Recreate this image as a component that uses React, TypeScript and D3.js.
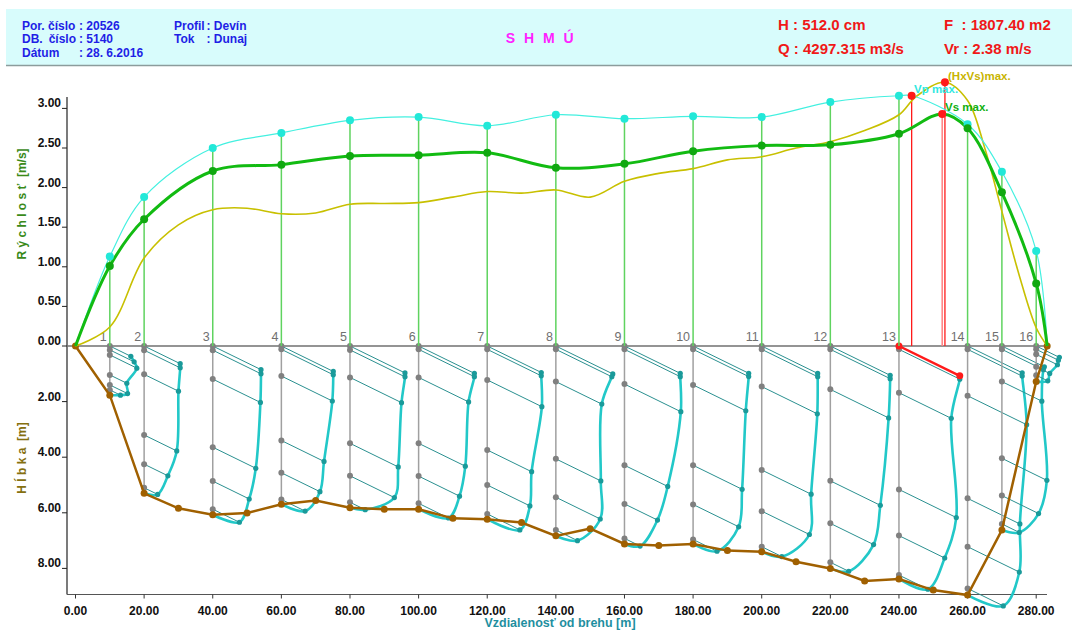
import React from "react";
import * as d3 from "d3";

// ---------- DATA ----------
const stations = [10, 20, 40, 60, 80, 100, 120, 140, 160, 180, 200, 220, 240, 260, 270, 280];
const stationLabels = ["1", "2", "3", "4", "5", "6", "7", "8", "9", "10", "11", "12", "13", "14", "15", "16"];
const vpValues = [1.13, 1.88, 2.5, 2.69, 2.85, 2.89, 2.78, 2.92, 2.87, 2.9, 2.89, 3.08, 3.16, 2.8, 2.2, 1.2];
const vsValues = [1.01, 1.6, 2.21, 2.29, 2.4, 2.41, 2.44, 2.25, 2.3, 2.46, 2.53, 2.54, 2.68, 2.75, 1.94, 0.79];
const bankLeft = 0;
const bankRight = 283.2;

const vpMaxPoint = [243.7, 3.16];
const vsMaxPoint = [252.6, 2.93];
const hxMaxPoint = [253.4, 3.33];

const hxX = [0, 10, 20, 30, 40, 50, 60, 70, 80, 90, 100, 110, 120, 130, 140, 150, 160, 170, 180, 190, 200, 210, 220, 230, 240, 245, 253.4, 260, 265, 270, 275, 280, 283.2];
const hxV = [0, 0.24, 1.11, 1.53, 1.72, 1.74, 1.67, 1.68, 1.79, 1.8, 1.81, 1.88, 1.95, 1.93, 1.97, 1.88, 2.08, 2.18, 2.24, 2.35, 2.39, 2.5, 2.58, 2.72, 2.92, 3.15, 3.33, 3.1, 2.5, 1.7, 0.9, 0.23, 0];

const bedX = [0, 10, 20, 30, 40, 50, 60, 70, 80, 90, 100, 110, 120, 130, 140, 150, 160, 170, 180, 190, 200, 210, 220, 230, 240, 250, 260, 270, 280, 283.2];
const bedDepth = [0, 1.77, 5.3, 5.84, 6.07, 6.01, 5.69, 5.56, 5.82, 5.87, 5.87, 6.2, 6.23, 6.35, 6.83, 6.57, 7.12, 7.18, 7.12, 7.36, 7.4, 7.76, 8.0, 8.45, 8.38, 8.78, 8.96, 6.62, 1.28, 0];

const profileDepths = [
  [0, 0.14, 0.32, 1.04, 1.4, 1.58],
  [0, 0.15, 1.02, 3.2, 4.25, 5.1],
  [0, 0.15, 1.19, 3.64, 4.86, 5.87],
  [0, 0.12, 1.08, 3.4, 4.56, 5.52],
  [0, 0.14, 1.13, 3.5, 4.67, 5.62],
  [0, 0.12, 1.13, 3.5, 4.68, 5.66],
  [0, 0.12, 1.22, 3.74, 5.0, 6.04],
  [0, 0.12, 1.28, 4.06, 5.44, 6.62],
  [0, 0.12, 1.37, 4.29, 5.68, 6.92],
  [0, 0.12, 1.4, 4.29, 5.7, 6.96],
  [0, 0.12, 1.46, 4.46, 5.94, 7.22],
  [0, 0.12, 1.56, 4.85, 6.38, 7.78],
  [0, 0.12, 1.68, 5.16, 6.82, 8.24],
  [0, 0.12, 1.79, 5.48, 7.22, 8.72],
  [0, 0.12, 1.28, 4.04, 5.38, 6.4],
  [0, 0.12, 0.3, 0.75, 1.05],
];
const profileVelocities = [
  [1.09, 1.26, 1.4, 0.88, 0.92, 0.55],
  [1.87, 1.87, 1.78, 1.69, 1.23, 0.7],
  [2.5, 2.5, 2.47, 2.23, 1.89, 1.38],
  [2.69, 2.69, 2.64, 2.21, 2.0, 1.23],
  [2.85, 2.85, 2.67, 2.5, 2.3, 0.79],
  [2.89, 2.89, 2.59, 2.42, 2.12, 1.55],
  [2.8, 2.8, 2.83, 2.3, 2.21, 1.69],
  [2.95, 2.9, 2.38, 2.33, 2.3, 1.12],
  [2.89, 2.89, 2.92, 2.24, 1.71, 0.81],
  [2.88, 2.88, 2.73, 2.54, 2.36, 1.24],
  [2.9, 2.9, 2.88, 2.56, 2.47, 1.04],
  [3.1, 3.1, 3.02, 2.59, 2.24, 0.95],
  [3.15, 3.15, 2.71, 2.97, 2.37, 1.5],
  [2.83, 2.83, 3.06, 2.71, 2.68, 1.85],
  [2.2, 2.15, 2.07, 2.33, 1.9, 0.9],
  [1.2, 1.15, 1.1, 0.7, 0.6],
];
const highlightStation = 12; // index of vertical with max surface velocity

const velTicks = [0, 0.5, 1, 1.5, 2, 2.5, 3];
const depthTicks = [2, 4, 6, 8];
const distTicks = [0, 20, 40, 60, 80, 100, 120, 140, 160, 180, 200, 220, 240, 260, 280];

// ---------- SCALES ----------
const xS = d3.scaleLinear().domain([0, 280]).range([75.5, 1036.2]);
const vS = d3.scaleLinear().domain([0, 3]).range([346, 108.4]);
const dS = d3.scaleLinear().domain([0, 8]).range([346, 568.4]);
const pS = d3.scaleLinear().domain([0, 1]).range([0, 19.3]);
const SKEW = 0.49;

const FONT = "'Liberation Sans', Arial, Helvetica, sans-serif";

type P = [number, number];
const upLine = d3
  .line<P>()
  .x((d) => xS(d[0]))
  .y((d) => vS(d[1]))
  .curve(d3.curveCatmullRom.alpha(0.5));
const pxLine = d3
  .line<P>()
  .x((d) => d[0])
  .y((d) => d[1])
  .curve(d3.curveCatmullRom.alpha(0.5));

function seriesWithMax(vals: number[], mx: number[]): P[] {
  const pts: P[] = stations.map((s, i) => [s, vals[i]] as P);
  pts.push([mx[0], mx[1]]);
  pts.sort((a, b) => a[0] - b[0]);
  return [[bankLeft, 0], ...pts, [bankRight, 0]];
}

export default function App() {
  const vpPts = seriesWithMax(vpValues, vpMaxPoint);
  const vsPts = seriesWithMax(vsValues, vsMaxPoint);
  const hxPts: P[] = hxX.map((x, i) => [x, hxV[i]] as P);
  const bedPts: P[] = bedX.map((x, i) => [x, bedDepth[i]] as P);

  const bedAt = (s: number) => bedDepth[bedX.indexOf(s)];

  return (
    <svg
      width={1081}
      height={630}
      style={{ position: "absolute", left: 0, top: 0, background: "#fff" }}
      fontFamily={FONT}
    >
      {/* header */}
      <rect x={6} y={9} width={1066} height={56} fill="#d8fcfc" />
      <line x1={6} x2={1072} y1={65.5} y2={65.5} stroke="#8c9c9c" strokeWidth={1.5} />
      <g fontWeight="bold" fontSize={12} fill="#1f1fe6">
        <text x={22} y={29.5}>Por. číslo</text>
        <text x={79} y={29.5}>: 20526</text>
        <text x={22} y={43}>DB.</text>
        <text x={76} y={43} textAnchor="end">číslo</text>
        <text x={79} y={43}>: 5140</text>
        <text x={22} y={56.5}>Dátum</text>
        <text x={79} y={56.5}>: 28. 6.2016</text>
        <text x={174} y={29.5}>Profil</text>
        <text x={206.5} y={29.5}>: Devín</text>
        <text x={174} y={43}>Tok</text>
        <text x={206.5} y={43}>: Dunaj</text>
      </g>
      <text x={541} y={42.5} textAnchor="middle" fontWeight="bold" fontSize={14} letterSpacing={2.5} fill="#ff22ff">
        S H M Ú
      </text>
      <g fontWeight="bold" fontSize={15} fill="#f01818">
        <text x={778} y={30}>H : 512.0 cm</text>
        <text x={778} y={53.5}>Q : 4297.315 m3/s</text>
        <text x={944} y={30} style={{ whiteSpace: "pre" }}>F  : 1807.40 m2</text>
        <text x={944} y={53.5}>Vr : 2.38 m/s</text>
      </g>

      {/* axes */}
      <line x1={67} x2={67} y1={97} y2={594.5} stroke="#222" strokeWidth={1.2} />
      <line x1={67} x2={1047} y1={594.5} y2={594.5} stroke="#555" strokeWidth={1.2} />
      <line x1={67} x2={1047} y1={346} y2={346} stroke="#707070" strokeWidth={1.5} />
      <g fontWeight="bold" fontSize={12} fill="#111">
        {velTicks.map((t) => (
          <g key={"v" + t}>
            <line x1={62} x2={67} y1={vS(t)} y2={vS(t)} stroke="#222" />
            <text x={61} y={vS(t) - 1} textAnchor="end">
              {t.toFixed(2)}
            </text>
          </g>
        ))}
        {depthTicks.map((t) => (
          <g key={"d" + t}>
            <line x1={62} x2={67} y1={dS(t)} y2={dS(t)} stroke="#222" />
            <text x={61} y={dS(t) - 1} textAnchor="end">
              {t.toFixed(2)}
            </text>
          </g>
        ))}
        {distTicks.map((t) => (
          <g key={"x" + t}>
            <line x1={xS(t)} x2={xS(t)} y1={594.5} y2={598.5} stroke="#333" />
            <text x={xS(t)} y={614.5} textAnchor="middle">
              {t.toFixed(2)}
            </text>
          </g>
        ))}
      </g>
      <text
        transform="translate(26,204) rotate(-90)"
        textAnchor="middle"
        fontWeight="bold"
        fontSize={12}
        fill="#3a8a1a"
        style={{ whiteSpace: "pre" }}
      >
        R ý c h l o s ť  [m/s]
      </text>
      <text
        transform="translate(26,458) rotate(-90)"
        textAnchor="middle"
        fontWeight="bold"
        fontSize={12}
        fill="#857010"
        style={{ whiteSpace: "pre" }}
      >
        H ĺ b k a  [m]
      </text>
      <text x={560} y={627} textAnchor="middle" fontWeight="bold" fontSize={12.5} fill="#1f8fa0">
        Vzdialenosť od brehu [m]
      </text>

      {/* lower: velocity profiles */}
      {stations.map((s, i) => {
        const xs = xS(s);
        const depths = profileDepths[i];
        const vels = profileVelocities[i];
        const proj: P[] = depths.map((d, j) => [xs + pS(vels[j]), dS(d) + pS(vels[j]) * SKEW] as P);
        const curvePts: P[] = [...proj, [xs, dS(bedAt(s))]];
        return (
          <g key={"p" + i}>
            <line x1={xs} x2={xs} y1={346} y2={dS(bedAt(s))} stroke="#a0a0a0" strokeWidth={1.5} />
            {depths.map((d, j) => (
              <line
                key={j}
                x1={xs}
                y1={dS(d)}
                x2={proj[j][0]}
                y2={proj[j][1]}
                stroke={i === highlightStation && j === 0 ? "#ff1a1a" : "#2a9090"}
                strokeWidth={i === highlightStation && j === 0 ? 2.5 : 1}
              />
            ))}
            <path d={pxLine(curvePts) || ""} fill="none" stroke="#22c8c8" strokeWidth={2.6} />
            {depths.map((d, j) => (
              <circle key={"g" + j} cx={xs} cy={dS(d)} r={3} fill="#808080" />
            ))}
            {proj.map((p, j) => (
              <circle key={"c" + j} cx={p[0]} cy={p[1]} r={2.6} fill="#1a9a9a" />
            ))}
            {i === highlightStation && (
              <g fill="#ff1a1a">
                <circle cx={xs} cy={dS(0)} r={3.5} />
                <circle cx={proj[0][0]} cy={proj[0][1]} r={3.5} />
              </g>
            )}
          </g>
        );
      })}

      {/* bed */}
      <path
        d={d3.line<P>().x((d) => xS(d[0])).y((d) => dS(d[1]))(bedPts) || ""}
        fill="none"
        stroke="#a06000"
        strokeWidth={2.5}
      />
      {bedPts.map((p, i) => (
        <circle key={"b" + i} cx={xS(p[0])} cy={dS(p[1])} r={3.5} fill="#a06000" />
      ))}

      {/* upper: verticals */}
      {stations.map((s, i) => (
        <g key={"u" + i}>
          <line x1={xS(s)} x2={xS(s)} y1={346} y2={vS(vpValues[i])} stroke="#5fd35f" strokeWidth={1.5} />
          <text x={xS(s) - 3} y={341} textAnchor="end" fontSize={12.5} fill="#707070">
            {stationLabels[i]}
          </text>
        </g>
      ))}
      {/* red max lines */}
      <line x1={xS(vpMaxPoint[0])} x2={xS(vpMaxPoint[0])} y1={346} y2={vS(vpMaxPoint[1])} stroke="#ff1a1a" strokeWidth={1.3} />
      <line x1={xS(vsMaxPoint[0])} x2={xS(vsMaxPoint[0])} y1={346} y2={vS(vsMaxPoint[1])} stroke="#ff8080" strokeWidth={1.5} />
      <line x1={xS(hxMaxPoint[0])} x2={xS(hxMaxPoint[0])} y1={346} y2={vS(hxMaxPoint[1])} stroke="#ff1a1a" strokeWidth={1.3} />

      {/* curves */}
      <path d={upLine(hxPts) || ""} fill="none" stroke="#c8c000" strokeWidth={1.6} />
      <path d={upLine(vpPts) || ""} fill="none" stroke="#44f0e0" strokeWidth={1.2} />
      <path d={upLine(vsPts) || ""} fill="none" stroke="#12bb12" strokeWidth={3} />
      {stations.map((s, i) => (
        <g key={"dots" + i}>
          <circle cx={xS(s)} cy={vS(vpValues[i])} r={4} fill="#22e8d8" />
          <circle cx={xS(s)} cy={vS(vsValues[i])} r={4} fill="#10a810" />
        </g>
      ))}
      <circle cx={xS(vpMaxPoint[0])} cy={vS(vpMaxPoint[1])} r={4} fill="#ff1a1a" />
      <circle cx={xS(vsMaxPoint[0])} cy={vS(vsMaxPoint[1])} r={4} fill="#ff1a1a" />
      <circle cx={xS(hxMaxPoint[0])} cy={vS(hxMaxPoint[1])} r={4} fill="#ff1a1a" />
      <g fontWeight="bold" fontSize={11.5}>
        <text x={948} y={79.5} fill="#c8b400">(HxVs)max.</text>
        <text x={914} y={93} fill="#30e8e0">Vp max.</text>
        <text x={945} y={111} fill="#10b010">Vs max.</text>
      </g>
    </svg>
  );
}
